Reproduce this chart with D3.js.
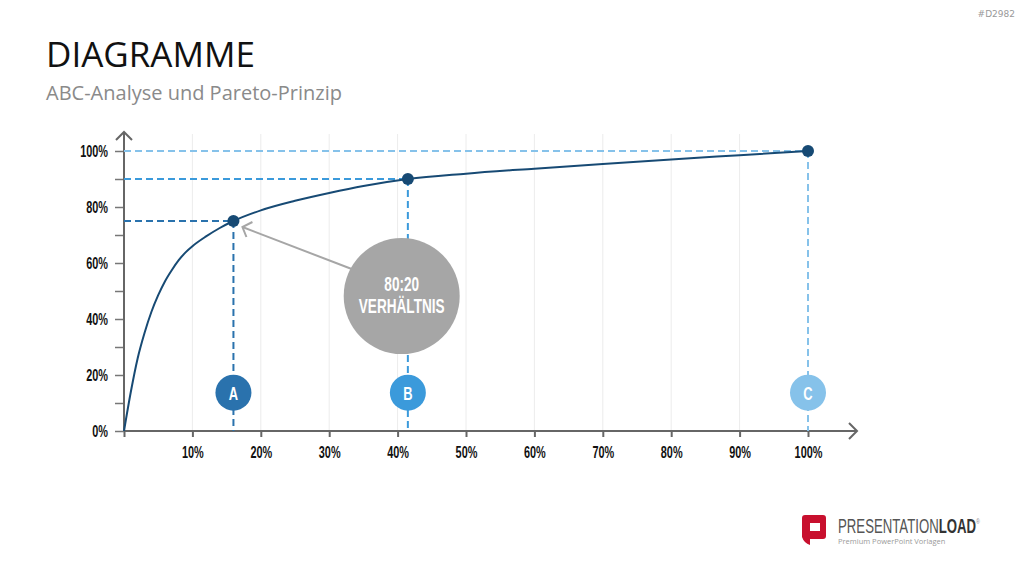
<!DOCTYPE html>
<html>
<head>
<meta charset="utf-8">
<script src="https://cdn.jsdelivr.net/npm/d3@7"></script>
<style>
	html, body { margin: 0; padding: 0; background: #fff; }
	svg { display: block; }
</style>
</head>
<body>
<svg id="chart" width="1024" height="576"></svg>
<script>
// pareto curve (x = share of items in %, y = cumulative value in %)
var curveX = [0, 1, 2, 3, 4, 5, 6, 7, 8, 9, 10, 12, 14, 16, 20, 25, 30, 35, 41.5, 50, 60, 70, 80, 90, 100];
var curveY = [0, 14, 26, 35, 42.5, 48.5, 53.5, 57.5, 61, 63.8, 66, 69.5, 72.5, 75, 78.8, 82.2, 85, 87.5, 90, 91.9, 93.7, 95.4, 97, 98.5, 100];

// ABC markers
var classes = ["A", "B", "C"];
var classX = [16, 41.5, 100];
var classY = [75, 90, 100];
var classColors = ["#2a72ad", "#3b9adb", "#86c2ea"];

var xTicks = [10, 20, 30, 40, 50, 60, 70, 80, 90, 100];
var yTicks = [0, 20, 40, 60, 80, 100];

(function(){
	var svg = d3.select("#chart");
	var x = d3.scaleLinear().domain([0, 100]).range([124, 808]);
	var y = d3.scaleLinear().domain([0, 100]).range([431, 151]);
	var condensed = "'Liberation Sans', 'DejaVu Sans', sans-serif";
	var squeeze = 0.68;

	// header
	svg.append("text").attr("x", 46).attr("y", 67)
		.style("font-family", "'Open Sans', sans-serif").style("font-size", "35px")
		.style("fill", "#111").text("DIAGRAMME");
	svg.append("text").attr("x", 46).attr("y", 100)
		.style("font-family", "'Open Sans', sans-serif").style("font-size", "20px")
		.style("fill", "#8a8a8a").text("ABC-Analyse und Pareto-Prinzip");
	svg.append("text").attr("x", 1015).attr("y", 17).attr("text-anchor", "end")
		.style("font-family", "'DejaVu Sans', sans-serif").style("font-size", "9px")
		.style("fill", "#999").text("#D2982");

	// vertical grid
	svg.append("g").selectAll("line")
		.data(xTicks.slice(0, 9))
		.enter().append("line")
		.attr("x1", function(d){ return x(d); })
		.attr("x2", function(d){ return x(d); })
		.attr("y1", 134).attr("y2", y(0))
		.style("stroke", "#ececec").style("stroke-width", 1);

	// axes
	var xAxis = svg.append("g")
		.attr("transform", "translate(0," + y(0) + ")")
		.call(d3.axisBottom(x).tickValues([0].concat(xTicks)).tickSize(6).tickPadding(10)
			.tickFormat(function(d){ return d === 0 ? "" : d + "%"; }));
	xAxis.select(".domain").remove();
	xAxis.selectAll(".tick line").style("stroke", "#666").style("stroke-width", 2);
	xAxis.selectAll(".tick text")
		.attr("transform", "scale(" + squeeze + ",1)")
		.style("font-family", condensed).style("font-weight", "bold")
		.style("font-size", "16px").style("fill", "#111");

	var yAxis = svg.append("g")
		.attr("transform", "translate(" + x(0) + ",0)")
		.call(d3.axisLeft(y).ticks(10).tickSize(9).tickPadding(7)
			.tickFormat(function(d){ return yTicks.indexOf(d) >= 0 ? d + "%" : ""; }));
	yAxis.select(".domain").remove();
	yAxis.selectAll(".tick line").style("stroke", "#777").style("stroke-width", 1.5);
	yAxis.selectAll(".tick text")
		.attr("transform", "scale(" + squeeze + ",1)")
		.attr("x", -16 / squeeze)
		.style("font-family", condensed).style("font-weight", "bold")
		.style("font-size", "16px").style("fill", "#111");

	// axis lines with open arrow heads
	svg.append("path")
		.attr("d", "M" + x(0) + "," + y(0) + "H857 M849,423 L857,431 L849,439")
		.style("fill", "none").style("stroke", "#666").style("stroke-width", 2);
	svg.append("path")
		.attr("d", "M" + x(0) + "," + y(0) + "V132 M116,140 L124,132 L132,140")
		.style("fill", "none").style("stroke", "#666").style("stroke-width", 2);

	// dashed guides
	var guides = svg.append("g");
	classes.forEach(function(c, i){
		guides.append("line")
			.attr("x1", x(0)).attr("x2", x(classX[i]))
			.attr("y1", y(classY[i])).attr("y2", y(classY[i]))
			.style("stroke", classColors[i]).style("stroke-width", 2)
			.style("stroke-dasharray", "7,4");
		guides.append("line")
			.attr("x1", x(classX[i])).attr("x2", x(classX[i]))
			.attr("y1", y(classY[i])).attr("y2", y(0))
			.style("stroke", classColors[i]).style("stroke-width", 2)
			.style("stroke-dasharray", "7,4");
	});

	// pareto curve
	var line = d3.line()
		.x(function(d){ return x(d[0]); })
		.y(function(d){ return y(d[1]); })
		.curve(d3.curveMonotoneX);
	svg.append("path")
		.datum(d3.zip(curveX, curveY))
		.attr("d", line)
		.style("fill", "none").style("stroke", "#174a74").style("stroke-width", 2);

	svg.append("g").selectAll("circle")
		.data(classes)
		.enter().append("circle")
		.attr("cx", function(d, i){ return x(classX[i]); })
		.attr("cy", function(d, i){ return y(classY[i]); })
		.attr("r", 6)
		.style("fill", "#174a74");

	// class badges
	var badge = svg.append("g").selectAll("g")
		.data(classes)
		.enter().append("g")
		.attr("transform", function(d, i){ return "translate(" + x(classX[i]) + "," + y(13.7) + ")"; });
	badge.append("circle").attr("r", 18)
		.style("fill", function(d, i){ return classColors[i]; });
	badge.append("text")
		.attr("transform", "scale(" + squeeze + ",1)")
		.attr("y", 7).attr("text-anchor", "middle")
		.style("font-family", condensed).style("font-weight", "bold")
		.style("font-size", "19px").style("fill", "#fff")
		.text(function(d){ return d; });

	// 80:20 annotation
	var cx = x(40.6), cy = y(48.2);
	svg.append("path")
		.attr("d", "M" + (cx - 50) + "," + (cy - 27) + " L" + (x(16) + 9) + "," + (y(75) + 6))
		.style("fill", "none").style("stroke", "#a6a6a6").style("stroke-width", 2);
	svg.append("path")
		.attr("d", "M" + (x(16) + 13) + "," + (y(75) + 16) + " L" + (x(16) + 9) + "," + (y(75) + 6)
			+ " L" + (x(16) + 19) + "," + (y(75) + 1))
		.style("fill", "none").style("stroke", "#a6a6a6").style("stroke-width", 2);
	svg.append("circle").attr("cx", cx).attr("cy", cy).attr("r", 58).style("fill", "#a6a6a6");
	var note = svg.append("g").attr("transform", "translate(" + cx + "," + cy + ") scale(" + squeeze + ",1)");
	note.append("text").attr("y", -5).attr("text-anchor", "middle")
		.style("font-family", condensed).style("font-weight", "bold")
		.style("font-size", "20px").style("fill", "#fff").text("80:20");
	note.append("text").attr("y", 17).attr("text-anchor", "middle")
		.style("font-family", condensed).style("font-weight", "bold")
		.style("font-size", "20px").style("fill", "#fff").text("VERHÄLTNIS");

	// logo
	var logo = svg.append("g").attr("transform", "translate(802,515)");
	logo.append("path")
		.attr("d", "M3,0 H21 Q24,0 24,3 V21 Q24,24 21,24 H8 V30 Q2,28 0,22 V3 Q0,0 3,0 Z M8,8 V16 H18 V8 Z")
		.style("fill", "#c8102e").style("fill-rule", "evenodd");
	var lt = logo.append("text").attr("transform", "translate(36,18) scale(0.66,1)")
		.style("font-family", condensed).style("font-size", "20px");
	lt.append("tspan").style("fill", "#555").text("PRESENTATION");
	lt.append("tspan").style("fill", "#333").style("font-weight", "bold").text("LOAD");
	lt.append("tspan").attr("dy", -9).style("fill", "#888").style("font-size", "8px").text("®");
	logo.append("text").attr("x", 36).attr("y", 29)
		.style("font-family", "'Open Sans', sans-serif").style("font-size", "7.5px")
		.style("fill", "#9a9a9a").text("Premium PowerPoint Vorlagen");
})();
</script>
</body>
</html>
